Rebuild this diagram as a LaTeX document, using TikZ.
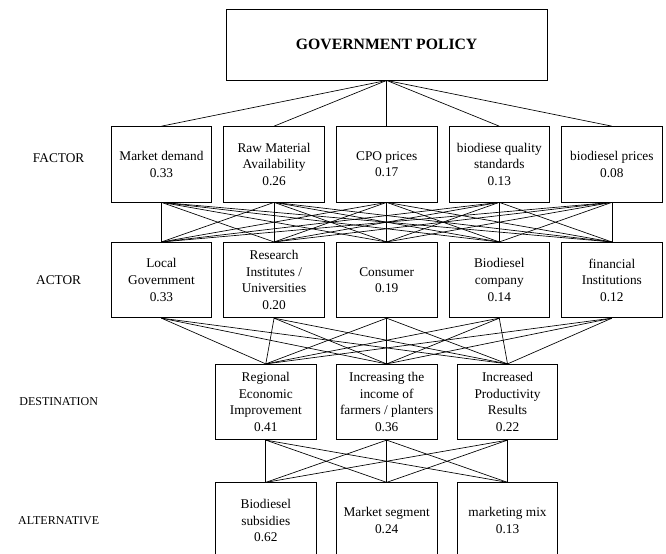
\documentclass[tikz,border=0pt]{standalone}
\usepackage{fontspec}
\setmainfont{Liberation Serif}
\usetikzlibrary{positioning}

\begin{document}
\begin{tikzpicture}[node distance=34.3pt and 8.4pt,
	levelbox/.style={draw, line width=0.65pt, minimum width=75.4pt, minimum height=56.5pt, inner sep=1pt, align=center, font=\fontsize{10}{12.5}\selectfont},
	rowlabel/.style={font=\fontsize{10}{12}\selectfont},
	link/.style={line width=0.5pt}]
			\useasboundingbox (0,0) rectangle (499.5pt,-414.75pt);
			\node[draw, line width=0.65pt, minimum width=241pt, minimum height=53pt, font=\fontsize{11.8}{14}\selectfont\bfseries] (goal) at (290pt,-33.5pt) {GOVERNMENT POLICY};
			\node[levelbox, below=of goal]                (fac3) {CPO prices\\0.17};
			\node[levelbox, left=of fac3]                 (fac2) {Raw Material\\Availability\\0.26};
			\node[levelbox, left=of fac2]                 (fac1) {Market demand\\0.33};
			\node[levelbox, right=of fac3]                (fac4) {biodiese quality\\standards\\0.13};
			\node[levelbox, right=of fac4]                (fac5) {biodiesel prices\\0.08};
			\node[levelbox, below=29.7pt of fac3]         (act3) {Consumer\\0.19};
			\node[levelbox, left=of act3]                 (act2) {Research\\Institutes /\\Universities\\0.20};
			\node[levelbox, left=of act2]                 (act1) {Local\\Government\\0.33};
			\node[levelbox, right=of act3]                (act4) {Biodiesel\\company\\0.14};
			\node[levelbox, right=of act4]                (act5) {financial\\Institutions\\0.12};
			\node[levelbox, below=34.3pt of act3]         (dest2) {Increasing the\\income of\\farmers / planters\\0.36};
			\node[levelbox, left=14.6pt of dest2]         (dest1) {Regional\\Economic\\Improvement\\0.41};
			\node[levelbox, right=14.6pt of dest2]        (dest3) {Increased\\Productivity\\Results\\0.22};
			\node[levelbox, below=31.7pt of dest2]        (alt2) {Market segment\\0.24};
			\node[levelbox, left=14.6pt of alt2]          (alt1) {Biodiesel\\subsidies\\0.62};
			\node[levelbox, right=14.6pt of alt2]         (alt3) {marketing mix\\0.13};
			\coordinate (labx) at (44pt,0);
			\node[rowlabel, yshift=4.5pt] (lfactor) at (labx |- fac1) {FACTOR};
			\node[rowlabel] (lactor) at (labx |- act1) {ACTOR};
			\node[rowlabel, font=\fontsize{9}{11}\selectfont] (ldest) at (labx |- dest1) {DESTINATION};
			\node[rowlabel, font=\fontsize{9}{11}\selectfont] (lalt) at (labx |- alt1) {ALTERNATIVE};
			\foreach \i in {1,...,5} \draw[link] (goal.south) -- (fac\i.north);
			\foreach \i in {1,...,5} \foreach \j in {1,...,5} \draw[link] (fac\i.south) -- (act\j.north);
			\foreach \i in {1,...,5} \foreach \j in {1,2,3} \draw[link] (act\i.south) -- (dest\j.north);
			\foreach \i in {1,2,3} \foreach \j in {1,2,3} \draw[link] (dest\i.south) -- (alt\j.north);
		\end{tikzpicture}
\end{document}
